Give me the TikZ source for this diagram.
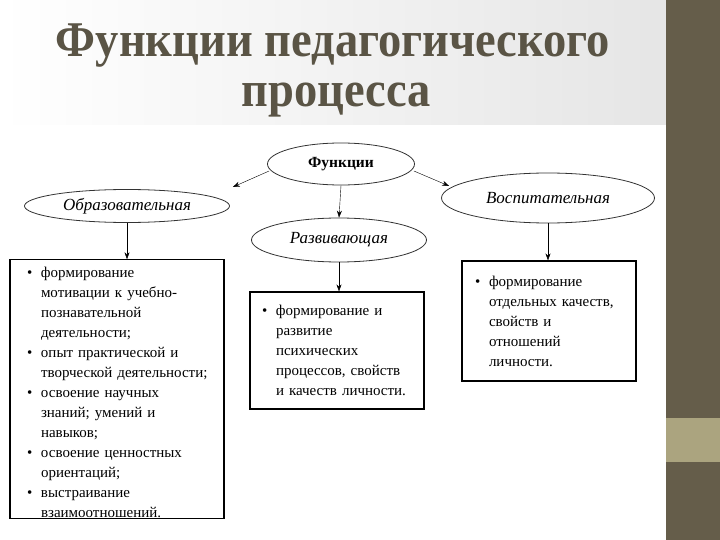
\documentclass[tikz,border=0pt]{standalone}
\usepackage{fontspec}
\setmainfont{Liberation Serif}
\usetikzlibrary{calc}
\usetikzlibrary{shapes}
\usetikzlibrary{arrows.meta}
\definecolor{slidebar}{HTML}{655D4A}
\definecolor{slideband}{HTML}{ABA47F}
\definecolor{titletext}{HTML}{5A5445}
\newcommand{\bul}{\makebox[16pt][l]{\hspace*{2pt}\textbullet}}
\newcommand{\ind}{\hspace*{16pt}}

\begin{document}
\begin{tikzpicture}[x=1pt, y=-1pt, >={Stealth[length=7pt,width=5pt]},
  titleline/.style={text=titletext, font=\fontsize{50}{50}\selectfont\bfseries, xscale=0.93, anchor=base, inner sep=0},
  oval/.style={ellipse, draw=black!80, line width=0.8pt, inner sep=0},
  ovaltext/.style={font=\fontsize{17}{17}\selectfont\itshape},
  listbox/.style={rectangle, draw=black, line width=1.2pt, align=left, font=\fontsize{15}{20}\selectfont, inner ysep=0}]
  \useasboundingbox (0,0) rectangle (720,540);
  \shade[left color=white, right color=black!10] (0,0) rectangle (666,125);
  \fill[slidebar] (666,0) rectangle (720,540);
  \fill[slideband] (666,418) rectangle (720,462);
  \node[titleline] (t1) at (333,57) {Функции педагогического};
  \node[titleline] (t2) at (336,107) {процесса};

  \node[oval, minimum width=147pt, minimum height=42pt, font=\fontsize{15.5}{15.5}\selectfont\bfseries] (fun) at (341,164) {Функции};
  \node[oval, ovaltext, minimum width=205pt, minimum height=33pt] (obr) at (127,206) {Образовательная};
  \node[oval, ovaltext, minimum width=175pt, minimum height=44pt] (raz) at (339,240) {Развивающая};
  \node[oval, ovaltext, minimum width=213pt, minimum height=50pt] (vos) at (548,198) {Воспитательная};

  \node[listbox, inner xsep=15pt, text width=184pt, minimum height=258pt] (left) at (117,389) {%
    \rule{0pt}{18pt}\bul формирование\\ \ind мотивации к учебно-\\ \ind познавательной\\ \ind деятельности;\\
    \bul опыт практической и\\ \ind творческой деятельности;\\
    \bul освоение научных\\ \ind знаний; умений и\\ \ind навыков;\\
    \bul освоение ценностных\\ \ind ориентаций;\\
    \bul выстраивание\\ \ind взаимоотношений.};
  \node[listbox, inner xsep=10pt, text width=154pt, minimum height=117pt] (mid) at (337,350.5) {%
    \bul формирование и\\ \ind развитие\\ \ind психических\\ \ind процессов, свойств\\ \ind и качеств личности.};
  \node[listbox, inner xsep=11pt, text width=152pt, minimum height=120pt] (right) at (549,321) {%
    \bul формирование\\ \ind отдельных качеств,\\ \ind свойств и\\ \ind отношений\\ \ind личности.};

  \draw[->] ($(fun.west)+(2,7)$) -- ($(obr.east)+(3,-19)$);
  \draw[->] ($(fun.east)+(-1,7)$) -- ($(vos.west)+(8,-12)$);
  \draw[->] (fun.south) -- (raz.north);
  \draw[->] (obr.south) -- (obr.south |- left.north);
  \draw[->] (raz.south) -- (raz.south |- mid.north);
  \draw[->] (vos.south) -- (vos.south |- right.north);
\end{tikzpicture}
\end{document}
